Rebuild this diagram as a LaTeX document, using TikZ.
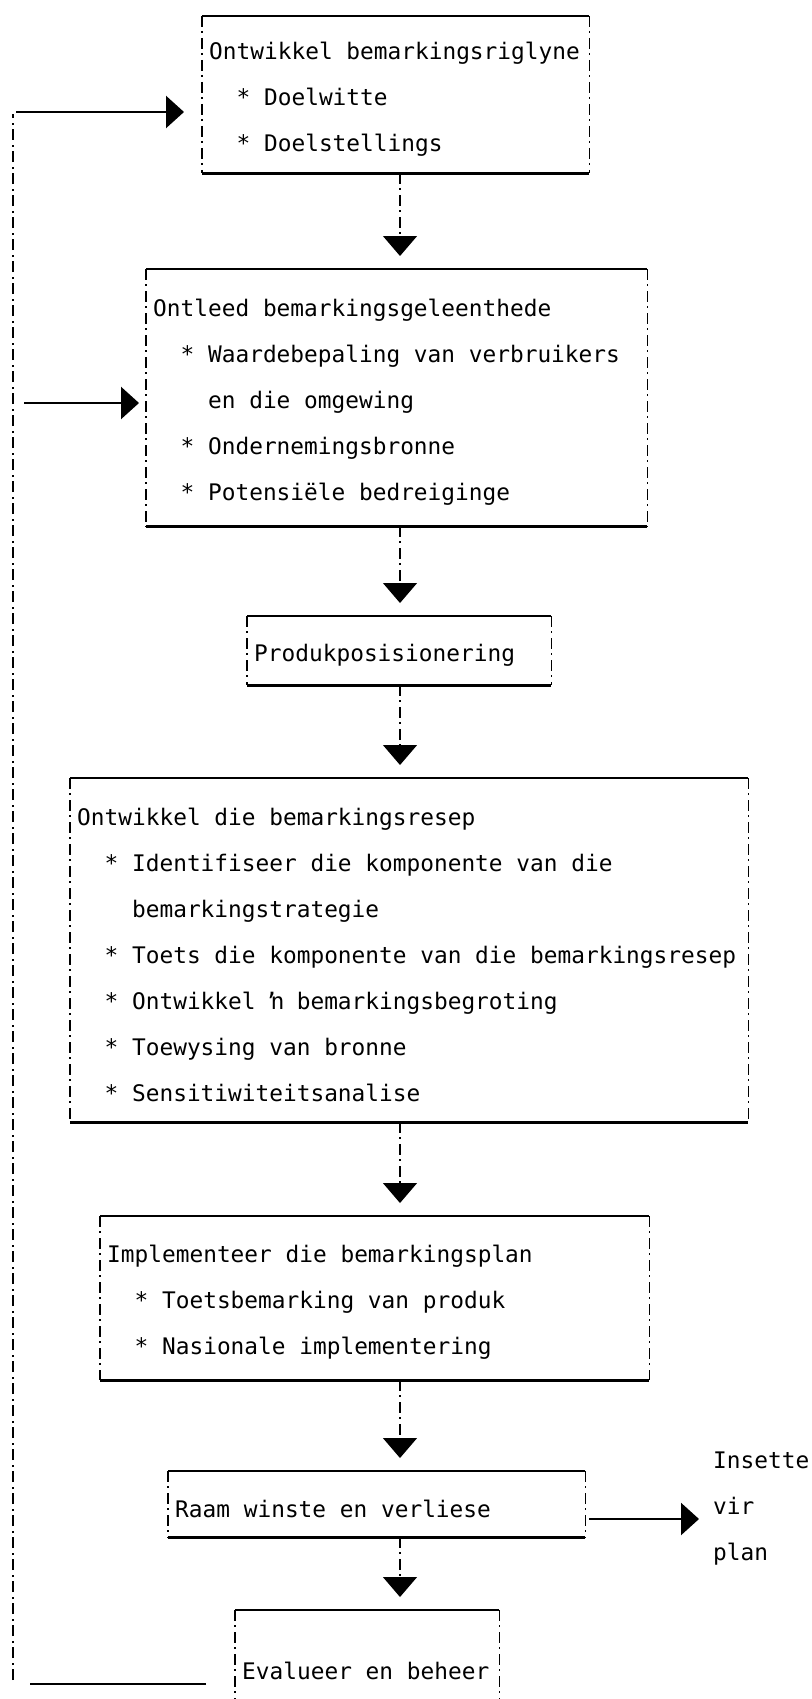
\documentclass[tikz,border=0pt]{standalone}
\usepackage{fontspec}
\newfontfamily\tikmono{DejaVu Sans Mono}
\usetikzlibrary{arrows.meta}

\begin{document}
\begin{tikzpicture}[x=1pt, y=-1pt, font=\tikmono\fontsize{22.8}{46}\selectfont, kader/.style={anchor=north west, align=left, inner xsep=7pt, inner ysep=0pt, execute at begin node={\spaceskip=0.602em\relax\hyphenpenalty=10000\relax\rule{0pt}{26pt}}}, rand/.style={line width=2.4pt}, kant/.style={line width=1.3pt, dash pattern=on 11pt off 4pt on 2pt off 5pt}, pyl/.style={kant, -{Triangle[width=34pt,length=20pt]}, shorten >=13pt}, hpyl/.style={line width=2.4pt, -{Triangle[width=32pt,length=18pt]}}]
\useasboundingbox (0,0) rectangle (811,1699);
\node[kader, minimum width=387pt, minimum height=157pt, text width=373pt] (b1) at (202,16) {Ontwikkel bemarkingsriglyne\\ \phantom{xx}* Doelwitte\\ \phantom{xx}* Doelstellings};
\node[kader, minimum width=501pt, minimum height=257pt, text width=487pt] (b2) at (146,269) {Ontleed bemarkingsgeleenthede\\ \phantom{xx}* Waardebepaling van verbruikers\\ \phantom{xxxx}en die omgewing\\ \phantom{xx}* Ondernemingsbronne\\ \phantom{xx}* Potensiële bedreiginge};
\node[kader, minimum width=304pt, minimum height=69pt, text width=290pt] (b3) at (247,616) {Produkposisionering};
\node[kader, minimum width=678pt, minimum height=344pt, text width=664pt] (b4) at (70,778) {Ontwikkel die bemarkingsresep\\ \phantom{xx}* Identifiseer die komponente van die\\ \phantom{xxxx}bemarkingstrategie\\ \phantom{xx}* Toets die komponente van die bemarkingsresep\\ \phantom{xx}* Ontwikkel ŉ bemarkingsbegroting\\ \phantom{xx}* Toewysing van bronne\\ \phantom{xx}* Sensitiwiteitsanalise};
\node[kader, minimum width=549pt, minimum height=164pt, text width=535pt] (b5) at (100,1216) {Implementeer die bemarkingsplan\\ \phantom{xx}* Toetsbemarking van produk\\ \phantom{xx}* Nasionale implementering};
\node[kader, minimum width=417pt, minimum height=66pt, text width=403pt] (b6) at (168,1471) {Raam winste en verliese};
\node[kader, minimum width=264pt, minimum height=112pt, text width=250pt] (b7) at (235,1610) {Evalueer en beheer};
\node[anchor=west, align=left, inner sep=0pt] (ins) at (713,1509) {Insette\\ vir\\ plan};
\foreach \b in {b1,b2,b3,b4,b5,b6,b7}{
  \draw[rand] (\b.north west) -- (\b.north east);
  \draw[rand] (\b.south west) -- (\b.south east);
  \draw[kant] (\b.north west) -- (\b.south west);
  \draw[kant] (\b.north east) -- (\b.south east);
}
\coordinate (sp) at (400,0);
\draw[pyl] (b1.south -| sp) -- (b2.north -| sp);
\draw[pyl] (b2.south -| sp) -- (b3.north -| sp);
\draw[pyl] (b3.south -| sp) -- (b4.north -| sp);
\draw[pyl] (b4.south -| sp) -- (b5.north -| sp);
\draw[pyl] (b5.south -| sp) -- (b6.north -| sp);
\draw[pyl] (b6.south -| sp) -- (b7.north -| sp);
\coordinate (uit) at (589,1519);
\draw[hpyl, shorten >=14pt] (uit) -- (ins.west |- uit);
\coordinate (fbE) at (206,1684);
\coordinate (fbW) at (30,1684);
\coordinate (fbB) at (13,1680);
\coordinate (fbT) at (13,114);
\coordinate (fb1) at (16,112);
\coordinate (fb2) at (24,403);
\draw[rand] (fbE) -- (fbW);
\draw[kant] (fbB) -- (fbT);
\draw[hpyl, shorten >=18pt] (fb1) -- (b1.west |- fb1);
\draw[hpyl, shorten >=7pt] (fb2) -- (b2.west |- fb2);
\end{tikzpicture}
\end{document}
